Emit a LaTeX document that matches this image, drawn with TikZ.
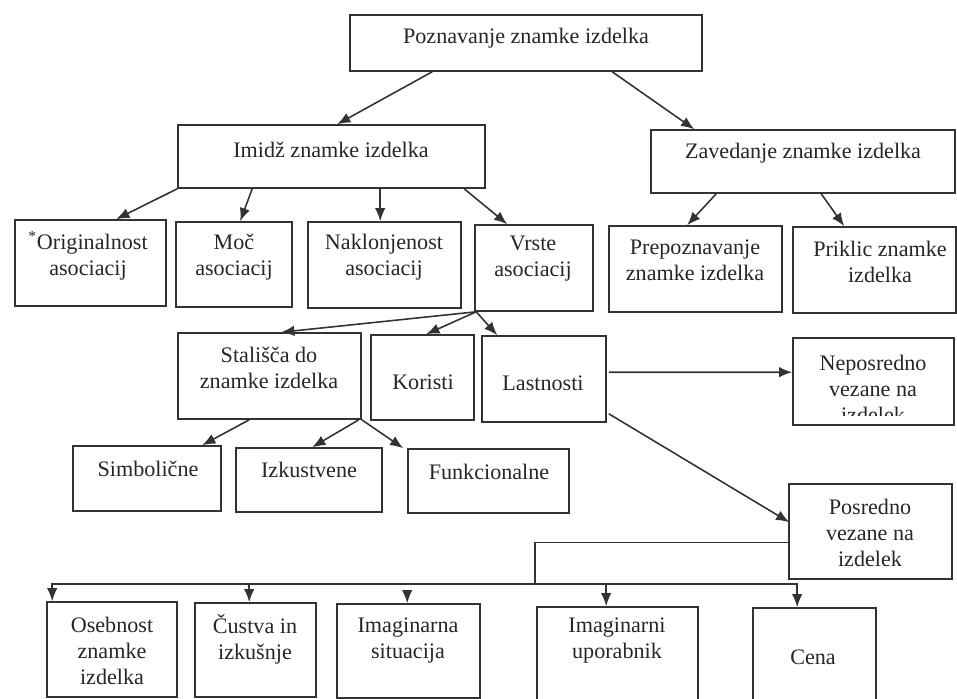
\documentclass[tikz,border=0pt]{standalone}
\usepackage{fontspec}
\setmainfont{Liberation Serif}
\usetikzlibrary{fit,arrows.meta}

\begin{document}
\begin{tikzpicture}[x=0.02cm,y=-0.02cm,
      box/.style={draw=black!80,line width=0.9pt,inner sep=0pt},
      lbl/.style={align=center,inner sep=0pt,text=black!85,
        font=\fontsize{12.6}{14.8}\selectfont},
      conn/.style={draw=black!80,line width=0.9pt,-{Latex[length=7.5pt,width=6pt]}}]
    \useasboundingbox (0,0) rectangle (957,699);
    % level 0 and 1
    \node[box,fit={(350,15) (702,71)}] (pozn) {};
    \node[lbl] (pozn-t) at (526,38) {Poznavanje znamke izdelka};
    \node[box,fit={(178,125) (485,188)}] (imidz) {};
    \node[lbl] (imidz-t) at (331,150) {Imidž znamke izdelka};
    \node[box,fit={(651,130) (955,193)}] (zaved) {};
    \node[lbl] (zaved-t) at (803,153) {Zavedanje znamke izdelka};
    % level 2
    \node[box,fit={(15,220) (166,306)}] (orig) {};
    \node[lbl] (orig-t) at (88,256) {\textsuperscript{*}Originalnost\\asociacij};
    \node[box,fit={(176,222) (292,307)}] (moc) {};
    \node[lbl] (moc-t) at (234,257) {Moč\\asociacij};
    \node[box,fit={(308,222) (461,308)}] (nakl) {};
    \node[lbl] (nakl-t) at (384,257) {Naklonjenost\\asociacij};
    \node[box,fit={(475,225) (593,311)}] (vrste) {};
    \node[lbl] (vrste-t) at (533,259) {Vrste\\asociacij};
    \node[box,fit={(609,226) (782,312)}] (prep) {};
    \node[lbl] (prep-t) at (695,260) {Prepoznavanje\\znamke izdelka};
    \node[box,fit={(793,227) (956,313)}] (prik) {};
    \node[lbl] (prik-t) at (880,262) {Priklic znamke\\izdelka};
    % level 3
    \node[box,fit={(178,333) (361,419)}] (stal) {};
    \node[lbl] (stal-t) at (269,368) {Stališča do\\znamke izdelka};
    \node[box,fit={(371,335) (474,420)}] (kor) {};
    \node[lbl] (kor-t) at (423,382) {Koristi};
    \node[box,fit={(482,336) (606,422)}] (last) {};
    \node[lbl] (last-t) at (543,383) {Lastnosti};
    \node[box,fit={(793,338) (954,425)}] (nepo) {};
    \begin{scope}
      \clip (nepo.north west) rectangle ([shift={(0,-10)}]nepo.south east);
      \node[lbl] (nepo-t) at (873,389) {Neposredno\\vezane na\\izdelek};
    \end{scope}
    % level 4
    \node[box,fit={(73,446) (221,511)}] (simb) {};
    \node[lbl] (simb-t) at (148,469) {Simbolične};
    \node[box,fit={(236,448) (382,512)}] (izku) {};
    \node[lbl] (izku-t) at (309,470) {Izkustvene};
    \node[box,fit={(408,449) (569,513)}] (funk) {};
    \node[lbl] (funk-t) at (489,472) {Funkcionalne};
    \node[box,fit={(789,484) (952,579)}] (posr) {};
    \node[lbl] (posr-t) at (870,533) {Posredno\\vezane na\\izdelek};
    % bottom row
    \node[box,fit={(47,602) (177,697)}] (oseb) {};
    \node[lbl] (oseb-t) at (112,651) {Osebnost\\znamke\\izdelka};
    \node[box,fit={(195,603) (316,697)}] (cust) {};
    \node[lbl] (cust-t) at (255,639) {Čustva in\\izkušnje};
    \node[box,fit={(337,604) (480,698)}] (imag) {};
    \node[lbl] (imag-t) at (408,641) {Imaginarna\\situacija};
    \node[box,fit={(537,607) (698,704)}] (imgu) {};
    \node[lbl] (imgu-t) at (617,641) {Imaginarni\\uporabnik};
    \node[box,fit={(753,608) (876,704)}] (cena) {};
    \node[lbl] (cena-t) at (813,657) {Cena};
    \coordinate (bus) at (535,584);

    % connectors
    \draw[conn] ([shift={(83,0)}]pozn.south west) -- ([shift={(160,0)}]imidz.north west);
    \draw[conn] ([shift={(263,0)}]pozn.south west) -- ([shift={(44,0)}]zaved.north west);
    \draw[conn] (imidz.south west) -- ([shift={(102,0)}]orig.north west);
    \draw[conn] ([shift={(75,0)}]imidz.south west) -- ([shift={(65,0)}]moc.north west);
    \draw[conn] ([shift={(203,0)}]imidz.south west) -- ([shift={(73,0)}]nakl.north west);
    \draw[conn] ([shift={(287,0)}]imidz.south west) -- ([shift={(33,0)}]vrste.north west);
    \draw[conn] ([shift={(66,0)}]zaved.south west) -- ([shift={(79,0)}]prep.north west);
    \draw[conn] ([shift={(171,0)}]zaved.south west) -- ([shift={(52,0)}]prik.north west);
    \draw[conn] ([shift={(2,0)}]vrste.south west) -- ([shift={(104,0)}]stal.north west);
    \draw[conn] ([shift={(2,0)}]vrste.south west) -- ([shift={(56,0)}]kor.north west);
    \draw[conn] ([shift={(2,0)}]vrste.south west) -- ([shift={(16,0)}]last.north west);
    \draw[conn] ([shift={(2,37)}]last.north east) -- ([shift={(0,35)}]nepo.north west);
    \draw[conn] ([shift={(2,-9)}]last.south east) -- ([shift={(1,39)}]posr.north west);
    \draw[conn] ([shift={(72,0)}]stal.south west) -- ([shift={(130,0)}]simb.north west);
    \draw[conn] ([shift={(-3,0)}]stal.south east) -- ([shift={(77,0)}]izku.north west);
    \draw[conn] (stal.south east) -- ([shift={(-4,0)}]funk.north west);
    \draw[conn,-] ([shift={(0,11)}]posr.west) -| (bus);
    \draw[conn] (bus) -| ([shift={(6,0)}]oseb.north west);
    \draw[conn] (bus) -| ([shift={(55,0)}]cust.north west);
    \draw[conn] ([shift={(71,-9)}]imag.north west) -- ([shift={(71,0)}]imag.north west);
    \draw[conn] (bus) -| ([shift={(70,0)}]imgu.north west);
    \draw[conn] (bus) -| ([shift={(45,0)}]cena.north west);
  \end{tikzpicture}
\end{document}
